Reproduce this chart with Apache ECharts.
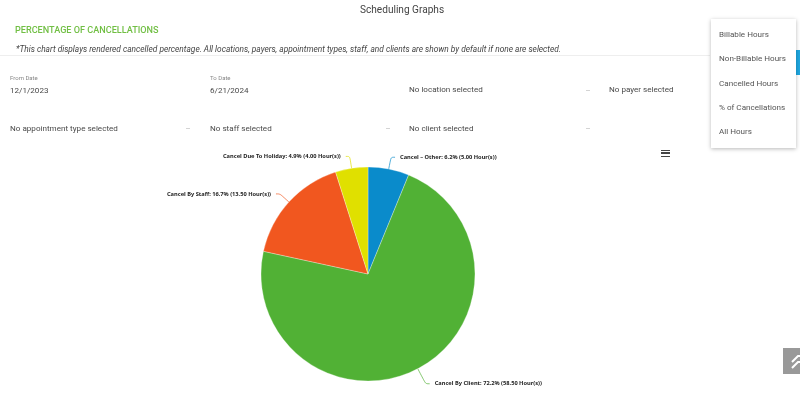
<!DOCTYPE html>
<html><head><meta charset="utf-8">
<style>
html,body{margin:0;padding:0;background:#fff;overflow:hidden;width:800px;height:406px;font-family:Roboto,sans-serif}
#chart{position:absolute;left:0;top:0;width:800px;height:406px}
.t{position:absolute;white-space:nowrap;color:#4a4a4a;font-size:8.1px;line-height:12px;z-index:2}
.arrow{position:absolute;width:4px;height:1px;background:#d4d4d4;z-index:2}
#menu{position:absolute;left:711px;top:19px;width:85px;height:129px;background:#fff;box-shadow:0 1px 4px rgba(0,0,0,.28);z-index:3}
#blue{position:absolute;left:796px;top:50px;width:4px;height:25px;background:#1ea7e0}
#hr{position:absolute;left:0;top:55px;width:710px;height:1px;background:#eee}
#burger{position:absolute;left:661px;top:150px;width:9px;height:7px;border-top:1.5px solid #444;border-bottom:1.5px solid #444;box-sizing:border-box;z-index:2}
#burger:after{content:"";position:absolute;left:0;right:0;top:1.25px;height:1.5px;background:#444}
#up{position:absolute;left:783px;top:348px;width:17px;height:26px;background:#999;overflow:hidden;z-index:2}
</style></head><body>
<div id="chart"></div>
<div class="t" style="left:360px;top:3px;font-size:10.1px;color:#444;line-height:13px">Scheduling Graphs</div>
<div class="t" style="left:15px;top:24px;font-size:9.1px;color:#71bf44;font-weight:500">PERCENTAGE OF CANCELLATIONS</div>
<div class="t" style="left:16px;top:43px;font-size:8.33px;font-style:italic;color:#444">*This chart displays rendered cancelled percentage. All locations, payers, appointment types, staff, and clients are shown by default if none are selected.</div>
<div id="hr"></div>
<div class="t" style="left:10px;top:72px;font-size:6px;color:#888;line-height:11px">From Date</div>
<div class="t" style="left:10px;top:84px">12/1/2023</div>
<div class="t" style="left:210px;top:72px;font-size:6px;color:#888;line-height:11px">To Date</div>
<div class="t" style="left:210px;top:84px">6/21/2024</div>
<div class="t" style="left:409px;top:83px">No location selected</div>
<div class="t" style="left:609px;top:83px">No payer selected</div>
<div class="t" style="left:10px;top:122px">No appointment type selected</div>
<div class="t" style="left:210px;top:122px">No staff selected</div>
<div class="t" style="left:409px;top:122px">No client selected</div>
<div class="arrow" style="left:586px;top:90px"></div>
<div class="arrow" style="left:186px;top:128px"></div>
<div class="arrow" style="left:386px;top:128px"></div>
<div class="arrow" style="left:586px;top:128px"></div>
<div id="blue"></div>
<div id="menu"></div>
<div class="t" style="left:719px;top:28px;z-index:4;color:#555">Billable Hours</div>
<div class="t" style="left:719px;top:52px;z-index:4;color:#555">Non-Billable Hours</div>
<div class="t" style="left:719px;top:77px;z-index:4;color:#555">Cancelled Hours</div>
<div class="t" style="left:719px;top:101px;z-index:4;color:#555">% of Cancellations</div>
<div class="t" style="left:719px;top:125px;z-index:4;color:#555">All Hours</div>
<div id="burger"></div>
<div id="up"><svg width="17" height="26"><path d="M9 14 L15 8 L17 8 M9 20 L15 14 L17 14" stroke="#fff" stroke-width="2" fill="none"/></svg></div>
<script src="https://cdn.jsdelivr.net/npm/echarts@6/dist/echarts.min.js"></script>
<script>
const categories = ['Cancel – Other','Cancel By Client','Cancel By Staff','Cancel Due To Holiday'];
const percents = [6.2,72.2,16.7,4.9];
const hours = ['5.00','58.50','13.50','4.00'];
const colors = ['#0a8bcb','#51b135','#f1571f','#e0e000'];
const lineLengths = [12,17,12,12];
const chart = echarts.init(document.getElementById('chart'));
chart.setOption({
  animation:false,
  series:[{
    type:'pie',
    center:[368,274],
    radius:[0,107],
    startAngle:90,
    clockwise:true,
    silent:true,
    data:categories.map((c,i)=>({name:c,value:percents[i],hours:hours[i],itemStyle:{color:colors[i]},labelLine:{length:lineLengths[i]}})),
    itemStyle:{borderColor:'#fff',borderWidth:0.3},
    label:{show:true,position:'outside',fontFamily:'"Noto Sans",sans-serif',fontSize:5.7,fontWeight:'bold',color:'#222',
      formatter:p=>p.name+': '+p.value+'% ('+p.data.hours+' Hour(s))'},
    labelLine:{show:true,length2:4,smooth:true,lineStyle:{width:1,opacity:.7}}
  }]
});
</script>
</body></html>
